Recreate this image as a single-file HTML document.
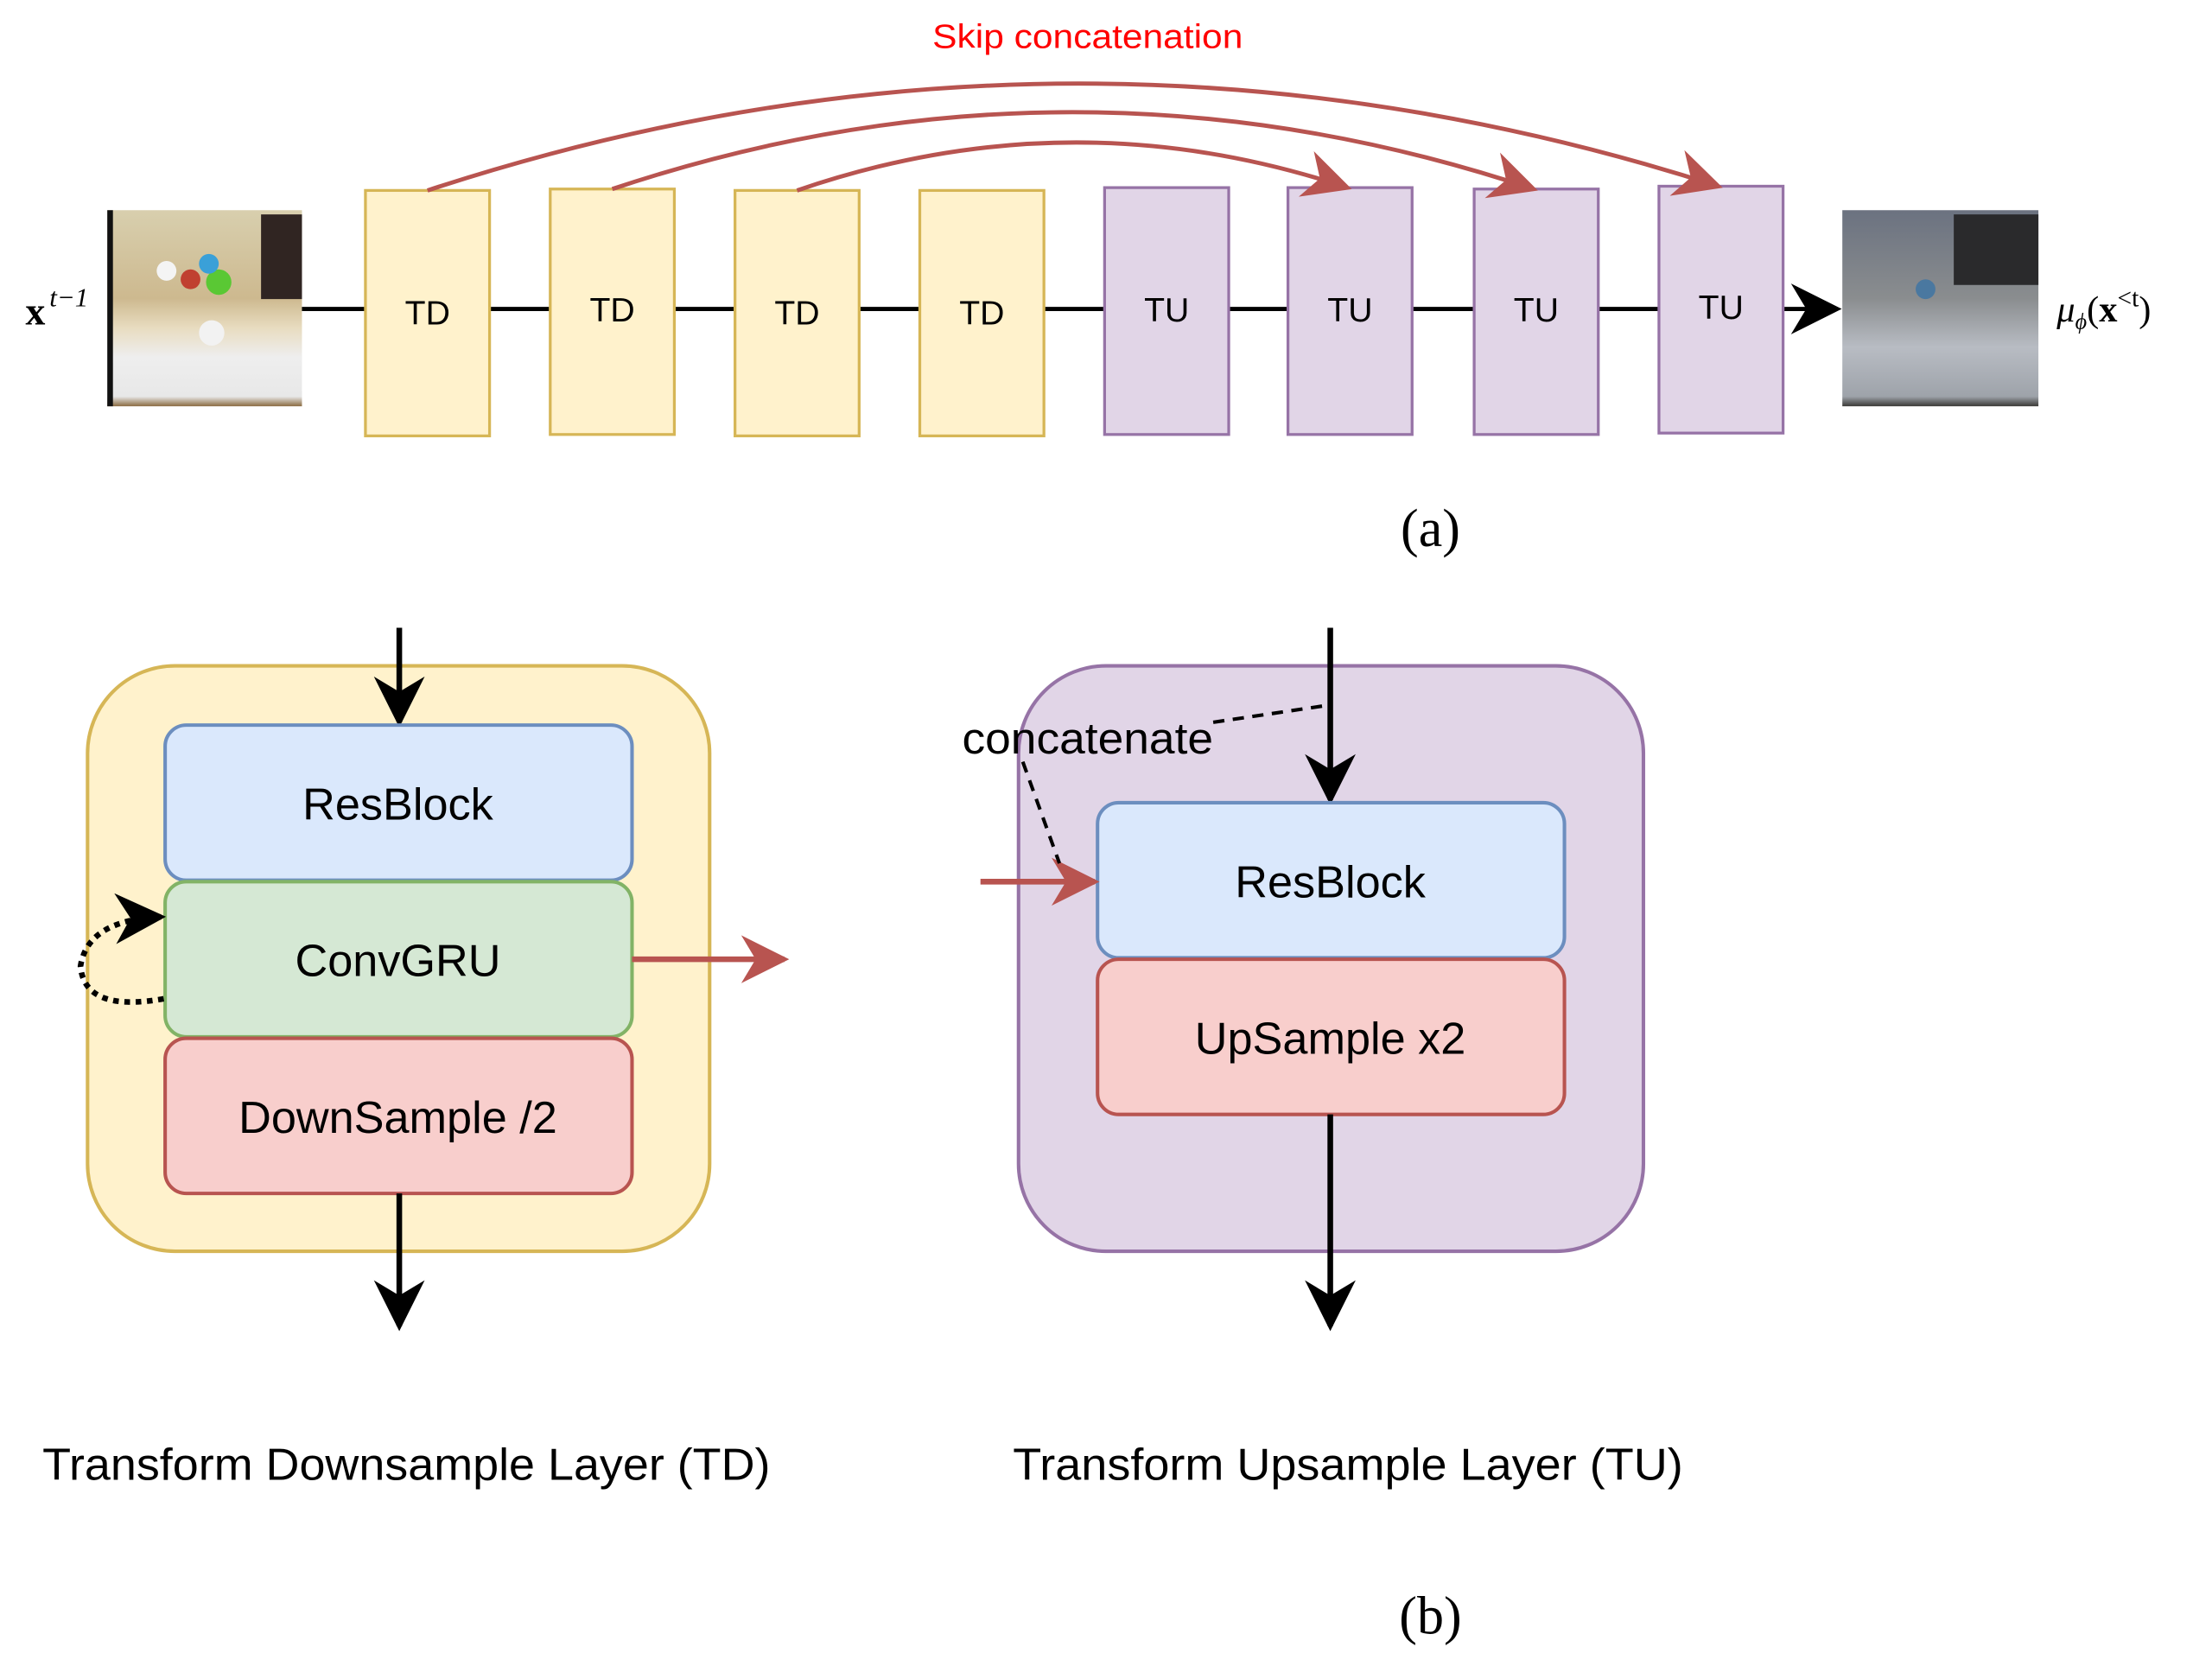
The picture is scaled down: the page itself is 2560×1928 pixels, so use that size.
<!DOCTYPE html>
<html><head><meta charset="utf-8"><style>html,body{margin:0;padding:0;background:#fff}svg{display:block}</style></head>
<body>
<svg width="2560" height="1928" viewBox="0 0 1568 1181" xmlns="http://www.w3.org/2000/svg" font-family="Liberation Sans, sans-serif">
<defs>
<marker id="akb" viewBox="0 0 10 10" refX="9" refY="5" markerWidth="36" markerHeight="36" orient="auto" markerUnits="userSpaceOnUse"><path d="M0,0 L10,5 L0,10 L3,5z" fill="#000"/></marker>
<marker id="arb" viewBox="0 0 10 10" refX="9" refY="5" markerWidth="34" markerHeight="34" orient="auto" markerUnits="userSpaceOnUse"><path d="M0,0 L10,5 L0,10 L3,5z" fill="#b85450"/></marker>
<linearGradient id="img1" x1="0" y1="0" x2="0" y2="1"><stop offset="0" stop-color="#d8cfae"/><stop offset="0.45" stop-color="#cdb98f"/><stop offset="0.6" stop-color="#e8dcc0"/><stop offset="0.75" stop-color="#eeeeee"/><stop offset="0.95" stop-color="#e8e8e8"/><stop offset="1" stop-color="#8a6a40"/></linearGradient>
<linearGradient id="img2" x1="0" y1="0" x2="0" y2="1"><stop offset="0" stop-color="#6b7280"/><stop offset="0.45" stop-color="#8a8d8f"/><stop offset="0.7" stop-color="#b8bcc3"/><stop offset="0.95" stop-color="#9ea3aa"/><stop offset="1" stop-color="#3b3a36"/></linearGradient>
</defs>

<text x="18" y="230" font-family="Liberation Serif, serif" font-size="28" font-weight="bold">x</text>
<text x="35" y="217" font-family="Liberation Serif, serif" font-size="19" font-style="italic">t−1</text>
<rect x="76" y="149" width="138" height="139" fill="url(#img1)"/>
<rect x="76" y="149" width="4" height="139" fill="#111"/>
<circle cx="155" cy="200" r="9" fill="#5ac834"/><circle cx="148" cy="187" r="7" fill="#3aa0d8"/><circle cx="135" cy="198" r="7" fill="#c04030"/><circle cx="118" cy="192" r="7" fill="#f4f4f4"/><circle cx="150" cy="236" r="9" fill="#f2f2f2"/>
<rect x="185" y="152" width="29" height="60" fill="#302522"/>
<line x1="214" y1="219" x2="1302" y2="219" stroke="#000" stroke-width="3" marker-end="url(#akb)"/>
<g font-size="24" text-anchor="middle">
<rect x="259" y="135" width="88" height="174" fill="#fff2cc" stroke="#d6b656" stroke-width="2"/><text x="303" y="230">TD</text>
<rect x="390" y="134" width="88" height="174" fill="#fff2cc" stroke="#d6b656" stroke-width="2"/><text x="434" y="228">TD</text>
<rect x="521" y="135" width="88" height="174" fill="#fff2cc" stroke="#d6b656" stroke-width="2"/><text x="565" y="230">TD</text>
<rect x="652" y="135" width="88" height="174" fill="#fff2cc" stroke="#d6b656" stroke-width="2"/><text x="696" y="230">TD</text>
<rect x="783" y="133" width="88" height="175" fill="#e1d5e7" stroke="#9673a6" stroke-width="2"/><text x="827" y="228">TU</text>
<rect x="913" y="133" width="88" height="175" fill="#e1d5e7" stroke="#9673a6" stroke-width="2"/><text x="957" y="228">TU</text>
<rect x="1045" y="134" width="88" height="174" fill="#e1d5e7" stroke="#9673a6" stroke-width="2"/><text x="1089" y="228">TU</text>
<rect x="1176" y="132" width="88" height="175" fill="#e1d5e7" stroke="#9673a6" stroke-width="2"/><text x="1220" y="226">TU</text>
</g>
<rect x="1306" y="149" width="139" height="139" fill="url(#img2)"/>
<circle cx="1365" cy="205" r="7" fill="#4a78a0"/><rect x="1385" y="152" width="60" height="50" fill="#2a2a2c"/>
<text x="1458" y="228" font-family="Liberation Serif, serif" font-size="26" font-style="italic">μ<tspan font-size="16" dy="5">ϕ</tspan><tspan dy="-5" font-style="normal">(</tspan><tspan font-weight="bold" font-style="normal">x</tspan><tspan font-size="18" dy="-11" font-style="normal">&lt;t</tspan><tspan dy="11" font-style="normal">)</tspan></text>
<g fill="none" stroke="#b85450" stroke-width="3">
<path d="M303,135 Q760,-15 1218,132" marker-end="url(#arb)"/>
<path d="M434,134 Q760,25 1087,134" marker-end="url(#arb)"/>
<path d="M565,135 Q760,68 955,133" marker-end="url(#arb)"/>
</g>
<text x="661" y="34" font-size="24" fill="#ff0000" textLength="220" lengthAdjust="spacingAndGlyphs">Skip concatenation</text>
<text x="1014" y="387" font-family="Liberation Serif, serif" font-size="38" text-anchor="middle">(a)</text>

<rect x="62" y="472" width="441" height="415" rx="62" fill="#fff2cc" stroke="#d6b656" stroke-width="2.5"/>
<line x1="283" y1="445" x2="283" y2="512" stroke="#000" stroke-width="4" marker-end="url(#akb)"/>
<rect x="117" y="514" width="331" height="110" rx="15" fill="#dae8fc" stroke="#6c8ebf" stroke-width="2.5"/>
<rect x="117" y="625" width="331" height="110" rx="15" fill="#d5e8d4" stroke="#82b366" stroke-width="2.5"/>
<rect x="117" y="736" width="331" height="110" rx="15" fill="#f8cecc" stroke="#b85450" stroke-width="2.5"/>
<g font-size="32" text-anchor="middle">
<text x="282" y="581">ResBlock</text><text x="282" y="692">ConvGRU</text><text x="282" y="803">DownSample /2</text>
</g>
<line x1="283" y1="846" x2="283" y2="940" stroke="#000" stroke-width="4" marker-end="url(#akb)"/>
<line x1="448" y1="680" x2="556" y2="680" stroke="#b85450" stroke-width="4" marker-end="url(#arb)"/>
<path d="M116,708 Q60,718 57,685 Q62,652 114,650" fill="none" stroke="#000" stroke-width="4" stroke-dasharray="4,4" marker-end="url(#akb)"/>

<rect x="722" y="472" width="443" height="415" rx="62" fill="#e1d5e7" stroke="#9673a6" stroke-width="2.5"/>
<line x1="943" y1="445" x2="943" y2="567" stroke="#000" stroke-width="4" marker-end="url(#akb)"/>
<rect x="778" y="569" width="331" height="110" rx="15" fill="#dae8fc" stroke="#6c8ebf" stroke-width="2.5"/>
<rect x="778" y="680" width="331" height="110" rx="15" fill="#f8cecc" stroke="#b85450" stroke-width="2.5"/>
<g font-size="32" text-anchor="middle">
<text x="943" y="636">ResBlock</text><text x="943" y="747">UpSample x2</text>
</g>
<line x1="943" y1="790" x2="943" y2="940" stroke="#000" stroke-width="4" marker-end="url(#akb)"/>
<line x1="695" y1="625" x2="776" y2="625" stroke="#b85450" stroke-width="4" marker-end="url(#arb)"/>
<line x1="860" y1="512" x2="941" y2="500" stroke="#000" stroke-width="2.5" stroke-dasharray="8,6"/>
<line x1="725" y1="540" x2="751" y2="612" stroke="#000" stroke-width="2.5" stroke-dasharray="8,6"/>
<text x="682" y="534" font-size="31" textLength="178" lengthAdjust="spacingAndGlyphs">concatenate</text>

<text x="30" y="1049" font-size="32" textLength="516" lengthAdjust="spacingAndGlyphs">Transform Downsample Layer (TD)</text>
<text x="718" y="1049" font-size="32" textLength="475" lengthAdjust="spacingAndGlyphs">Transform Upsample Layer (TU)</text>
<text x="1014" y="1158" font-family="Liberation Serif, serif" font-size="38" text-anchor="middle">(b)</text>
</svg>
</body></html>
